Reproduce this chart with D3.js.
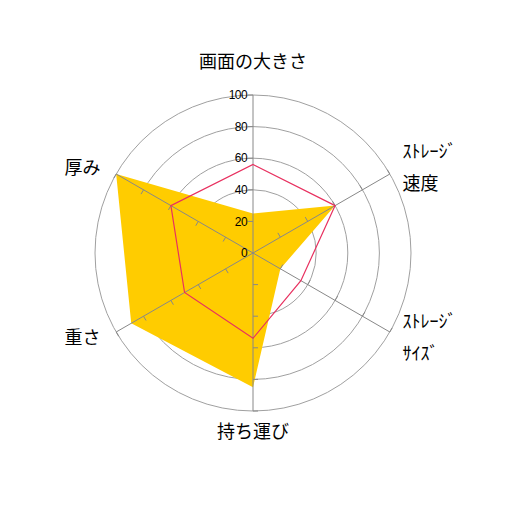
<!DOCTYPE html>
<html>
<head>
<meta charset="utf-8">
<script src="https://cdn.jsdelivr.net/npm/d3@7"></script>
<style>
  body { margin: 0; background: #fff; }
  svg { display: block; }
</style>
</head>
<body>
<div id="container"></div>
<script>
/* DATA */
const axes = [["画面の大きさ"], ["ｽﾄﾚｰｼﾞ", "速度"], ["ｽﾄﾚｰｼﾞ", "ｻｲｽﾞ"], ["持ち運び"], ["重さ"], ["厚み"]];
const goldValues = [25, 60, 20, 85, 89, 100];
const redValues = [56, 60, 35, 54, 50, 60];
const ringTicks = [20, 40, 60, 80, 100];
const tickLabels = [0, 20, 40, 60, 80, 100];

/* CONSTANTS */
const width = 506, height = 506;
const cx = 253, cy = 253, radius = 158;

const svg = d3.select("#container")
  .append("svg")
  .attr("width", width)
  .attr("height", height);

const rScale = d3.scaleLinear().domain([0, 100]).range([0, radius]);
const angle = d3.scalePoint().domain(d3.range(axes.length)).range([0, 2 * Math.PI * (axes.length - 1) / axes.length]);

const px = (i, v) => cx + Math.sin(angle(i)) * rScale(v);
const py = (i, v) => cy - Math.cos(angle(i)) * rScale(v);

// rings
svg.append("g")
  .selectAll("circle")
  .data(ringTicks)
  .join("circle")
  .attr("cx", cx)
  .attr("cy", cy)
  .attr("r", d => rScale(d))
  .attr("fill", "none")
  .attr("stroke", "#a0a0a0")
  .attr("stroke-width", 1);

// gold area
const radar = d3.lineRadial()
  .angle((d, i) => angle(i))
  .radius(d => rScale(d))
  .curve(d3.curveLinearClosed);

svg.append("path")
  .datum(goldValues)
  .attr("transform", `translate(${cx},${cy})`)
  .attr("d", radar)
  .attr("fill", "#ffcc00");

// spokes
svg.append("g")
  .selectAll("line")
  .data(axes)
  .join("line")
  .attr("x1", cx)
  .attr("y1", cy)
  .attr("x2", (d, i) => px(i, 100))
  .attr("y2", (d, i) => py(i, 100))
  .attr("stroke", "#888")
  .attr("stroke-width", 1);

// small ticks on each spoke
const tickLen = 5;
axes.forEach((a, i) => {
  const t = angle(i);
  // perpendicular, rotated counter-clockwise from the axis direction
  const ox = -Math.cos(t) * tickLen, oy = -Math.sin(t) * tickLen;
  svg.append("g")
    .selectAll("line")
    .data(ringTicks)
    .join("line")
    .attr("x1", d => px(i, d))
    .attr("y1", d => py(i, d))
    .attr("x2", d => px(i, d) + ox)
    .attr("y2", d => py(i, d) + oy)
    .attr("stroke", "#888")
    .attr("stroke-width", 1);
});

// red series
svg.append("path")
  .datum(redValues)
  .attr("transform", `translate(${cx},${cy})`)
  .attr("d", radar)
  .attr("fill", "none")
  .attr("stroke", "#e8305f")
  .attr("stroke-width", 1.2);

// tick labels
svg.append("g")
  .selectAll("text")
  .data(tickLabels)
  .join("text")
  .attr("x", cx - 6)
  .attr("y", d => cy - rScale(d))
  .attr("dy", "0.35em")
  .attr("text-anchor", "end")
  .attr("font-family", "Liberation Sans, Arial, sans-serif")
  .attr("font-size", 12)
  .attr("letter-spacing", -0.6)
  .attr("fill", "#000")
  .text(d => d);

// axis labels
const fs = 18, lineH = 32;
axes.forEach((lines, i) => {
  const t = angle(i);
  const s = Math.sin(t), c = Math.cos(t);
  let x, yc, anchor = "middle";
  if (Math.abs(s) < 0.01) {
    x = cx;
    yc = cy - c * 185 - 6;
  } else {
    x = cx + s * 198;
    yc = cy - c * 170;
    anchor = s > 0 ? "start" : "end";
    x = s > 0 ? x - 22 : x + 19;
  }
  const txt = svg.append("text")
    .attr("font-family", "'Noto Sans CJK JP', sans-serif")
    .attr("font-size", fs)
    .attr("fill", "#000")
    .attr("text-anchor", anchor);
  lines.forEach((ln, k) => {
    txt.append("tspan")
      .attr("x", x)
      .attr("y", yc - (lines.length - 1) * lineH / 2 + k * lineH + fs * 0.35)
      .text(ln);
  });
});
</script>
</body>
</html>
